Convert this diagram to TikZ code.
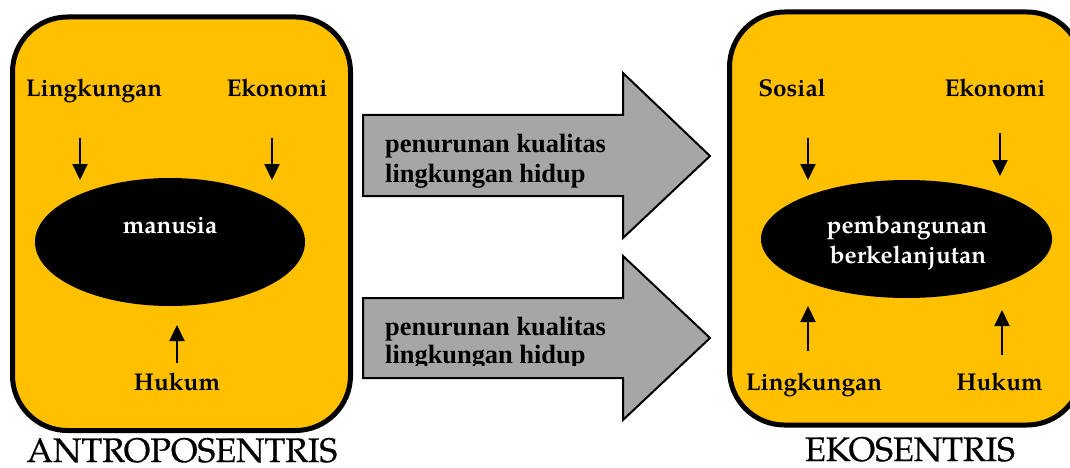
\documentclass[tikz,border=0pt]{standalone}
\usepackage{fontspec}
\setmainfont{TeX Gyre Pagella}
\newfontfamily\timesf{Liberation Serif}
\newfontfamily\titlef[FakeBold=0.5]{TeX Gyre Pagella}
\usetikzlibrary{arrows.meta,shapes.geometric}
\definecolor{boxyellow}{HTML}{FFC000}
\definecolor{arrowgray}{HTML}{A6A6A6}
\begin{document}
\begin{tikzpicture}[x=1pt,y=-1pt,
  panel/.style={draw=black,line width=5pt,fill=boxyellow,rounded corners=55pt},
  blob/.style={ellipse,fill=black,inner sep=0pt},
  lbl/.style={font=\fontsize{24.3}{30}\selectfont\bfseries,anchor=base,inner sep=0pt},
  wlbl/.style={lbl,text=white},
  title/.style={font=\titlef\fontsize{34}{36}\selectfont,anchor=base,inner sep=0pt},
  bigarrow/.style={draw=black,line width=2pt,fill=arrowgray,line join=miter},
  atext/.style={font=\timesf\bfseries\fontsize{26.4}{29}\selectfont,anchor=base west,inner sep=0pt},
  flow/.style={line width=2pt,-{Triangle[length=16pt,width=15pt]}}
]
\useasboundingbox (0,0) rectangle (1070,468);
\clip (0,0) rectangle (1070,468);
% panels
\path[panel] (12.5,17) rectangle (350.5,430.5);
\path[panel] (729.5,12) rectangle (1082,425);
% big arrows
\path[bigarrow] (363,115) -- (623,115) -- (623,73) -- (710,156) -- (623,238) -- (623,196) -- (363,196) -- cycle;
\path[bigarrow] (363,298) -- (623,298) -- (623,256) -- (710,338) -- (623,420) -- (623,378) -- (363,378) -- cycle;
\node[atext] (a1) at (385,153) {penurunan kualitas};
\node[atext] (a2) at (385,182) {lingkungan hidup};
\node[atext] (b1) at (385,335) {penurunan kualitas};
\begin{scope}
\clip (365,300) rectangle (620,365.5);
\node[atext] (b2) at (385,363) {lingkungan hidup};
\end{scope}
% left panel
\node[blob,minimum width=270pt,minimum height=128pt] (man) at (170,242) {};
\node[wlbl] (mant) at (170,233) {manusia};
\node[lbl] (ll) at (94,97) {Lingkungan};
\node[lbl] (le) at (277,97) {Ekonomi};
\node[lbl] (lh) at (177,390) {Hukum};
\node[title] (t1) at (182,462) {ANTROPOSENTRIS};
\coordinate (ll1) at (80,138); \coordinate (ll2) at (80,180);
\coordinate (le1) at (272,138); \coordinate (le2) at (272,180);
\coordinate (lh1) at (177,363); \coordinate (lh2) at (177,325);
\draw[flow] (ll1) -- (ll2);
\draw[flow] (le1) -- (le2);
\draw[flow] (lh1) -- (lh2);
% right panel
\node[blob,minimum width=291pt,minimum height=118pt] (pb) at (906.5,239) {};
\node[wlbl] (pb1) at (907,233) {pembangunan};
\node[wlbl] (pb2) at (908,263) {berkelanjutan};
\node[lbl] (rs) at (792,97) {Sosial};
\node[lbl] (re) at (995,97) {Ekonomi};
\node[lbl] (rl) at (814,390) {Lingkungan};
\node[lbl] (rh) at (999.5,390) {Hukum};
\node[title] (t2) at (910,461) {EKOSENTRIS};
\coordinate (rs1) at (808,138); \coordinate (rs2) at (808,180);
\coordinate (re1) at (1000,133); \coordinate (re2) at (1000,176);
\coordinate (rl1) at (808,351); \coordinate (rl2) at (808,306);
\coordinate (rh1) at (1002,355); \coordinate (rh2) at (1002,310);
\draw[flow] (rs1) -- (rs2);
\draw[flow] (re1) -- (re2);
\draw[flow] (rl1) -- (rl2);
\draw[flow] (rh1) -- (rh2);
\end{tikzpicture}
\end{document}
